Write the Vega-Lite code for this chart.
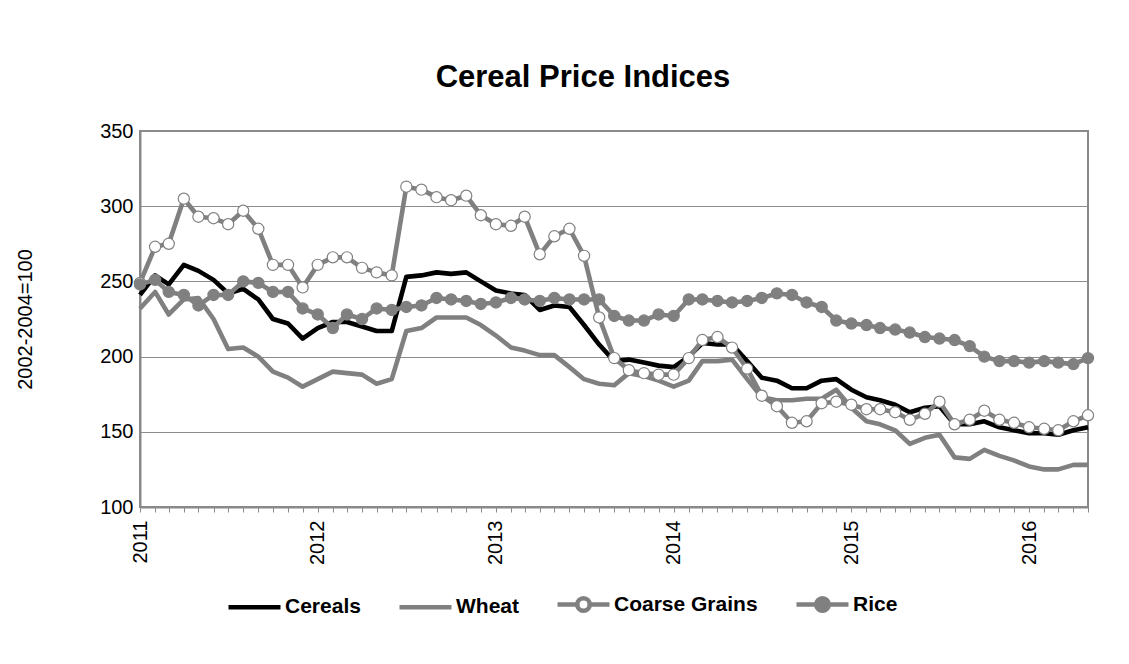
{
  "$schema": "https://vega.github.io/schema/vega-lite/v6.json",
  "width": 948,
  "height": 376,
  "autosize": {"type": "none"},
  "padding": {"left": 140, "top": 131, "right": 41, "bottom": 157},
  "background": "white",
  "title": {"text": "Cereal Price Indices", "fontSize": 31, "fontWeight": "bold", "color": "black", "anchor": "middle", "frame": "group", "dx": -31, "offset": 27},
  "data": {"values": [
    {"date": "2011-01-01", "Cereals": 241, "Wheat": 232, "Coarse Grains": 249, "Rice": 248},
    {"date": "2011-02-01", "Cereals": 254, "Wheat": 243, "Coarse Grains": 273, "Rice": 251},
    {"date": "2011-03-01", "Cereals": 248, "Wheat": 228, "Coarse Grains": 275, "Rice": 243},
    {"date": "2011-04-01", "Cereals": 261, "Wheat": 238, "Coarse Grains": 305, "Rice": 241},
    {"date": "2011-05-01", "Cereals": 257, "Wheat": 239, "Coarse Grains": 293, "Rice": 234},
    {"date": "2011-06-01", "Cereals": 251, "Wheat": 225, "Coarse Grains": 292, "Rice": 241},
    {"date": "2011-07-01", "Cereals": 242, "Wheat": 205, "Coarse Grains": 288, "Rice": 241},
    {"date": "2011-08-01", "Cereals": 245, "Wheat": 206, "Coarse Grains": 297, "Rice": 250},
    {"date": "2011-09-01", "Cereals": 238, "Wheat": 200, "Coarse Grains": 285, "Rice": 249},
    {"date": "2011-10-01", "Cereals": 225, "Wheat": 190, "Coarse Grains": 261, "Rice": 243},
    {"date": "2011-11-01", "Cereals": 222, "Wheat": 186, "Coarse Grains": 261, "Rice": 243},
    {"date": "2011-12-01", "Cereals": 212, "Wheat": 180, "Coarse Grains": 246, "Rice": 232},
    {"date": "2012-01-01", "Cereals": 219, "Wheat": 185, "Coarse Grains": 261, "Rice": 228},
    {"date": "2012-02-01", "Cereals": 223, "Wheat": 190, "Coarse Grains": 266, "Rice": 219},
    {"date": "2012-03-01", "Cereals": 223, "Wheat": 189, "Coarse Grains": 266, "Rice": 228},
    {"date": "2012-04-01", "Cereals": 220, "Wheat": 188, "Coarse Grains": 259, "Rice": 225},
    {"date": "2012-05-01", "Cereals": 217, "Wheat": 182, "Coarse Grains": 256, "Rice": 232},
    {"date": "2012-06-01", "Cereals": 217, "Wheat": 185, "Coarse Grains": 254, "Rice": 231},
    {"date": "2012-07-01", "Cereals": 253, "Wheat": 217, "Coarse Grains": 313, "Rice": 233},
    {"date": "2012-08-01", "Cereals": 254, "Wheat": 219, "Coarse Grains": 311, "Rice": 234},
    {"date": "2012-09-01", "Cereals": 256, "Wheat": 226, "Coarse Grains": 306, "Rice": 239},
    {"date": "2012-10-01", "Cereals": 255, "Wheat": 226, "Coarse Grains": 304, "Rice": 238},
    {"date": "2012-11-01", "Cereals": 256, "Wheat": 226, "Coarse Grains": 307, "Rice": 237},
    {"date": "2012-12-01", "Cereals": 250, "Wheat": 221, "Coarse Grains": 294, "Rice": 235},
    {"date": "2013-01-01", "Cereals": 244, "Wheat": 214, "Coarse Grains": 288, "Rice": 236},
    {"date": "2013-02-01", "Cereals": 242, "Wheat": 206, "Coarse Grains": 287, "Rice": 239},
    {"date": "2013-03-01", "Cereals": 241, "Wheat": 204, "Coarse Grains": 293, "Rice": 238},
    {"date": "2013-04-01", "Cereals": 231, "Wheat": 201, "Coarse Grains": 268, "Rice": 237},
    {"date": "2013-05-01", "Cereals": 234, "Wheat": 201, "Coarse Grains": 280, "Rice": 239},
    {"date": "2013-06-01", "Cereals": 233, "Wheat": 193, "Coarse Grains": 285, "Rice": 238},
    {"date": "2013-07-01", "Cereals": 221, "Wheat": 185, "Coarse Grains": 267, "Rice": 238},
    {"date": "2013-08-01", "Cereals": 208, "Wheat": 182, "Coarse Grains": 226, "Rice": 238},
    {"date": "2013-09-01", "Cereals": 197, "Wheat": 181, "Coarse Grains": 199, "Rice": 227},
    {"date": "2013-10-01", "Cereals": 198, "Wheat": 189, "Coarse Grains": 191, "Rice": 224},
    {"date": "2013-11-01", "Cereals": 196, "Wheat": 187, "Coarse Grains": 189, "Rice": 224},
    {"date": "2013-12-01", "Cereals": 194, "Wheat": 184, "Coarse Grains": 188, "Rice": 228},
    {"date": "2014-01-01", "Cereals": 193, "Wheat": 180, "Coarse Grains": 188, "Rice": 227},
    {"date": "2014-02-01", "Cereals": 200, "Wheat": 184, "Coarse Grains": 199, "Rice": 238},
    {"date": "2014-03-01", "Cereals": 209, "Wheat": 197, "Coarse Grains": 211, "Rice": 238},
    {"date": "2014-04-01", "Cereals": 208, "Wheat": 197, "Coarse Grains": 213, "Rice": 237},
    {"date": "2014-05-01", "Cereals": 208, "Wheat": 198, "Coarse Grains": 206, "Rice": 236},
    {"date": "2014-06-01", "Cereals": 197, "Wheat": 185, "Coarse Grains": 192, "Rice": 237},
    {"date": "2014-07-01", "Cereals": 186, "Wheat": 173, "Coarse Grains": 174, "Rice": 239},
    {"date": "2014-08-01", "Cereals": 184, "Wheat": 171, "Coarse Grains": 167, "Rice": 242},
    {"date": "2014-09-01", "Cereals": 179, "Wheat": 171, "Coarse Grains": 156, "Rice": 241},
    {"date": "2014-10-01", "Cereals": 179, "Wheat": 172, "Coarse Grains": 157, "Rice": 236},
    {"date": "2014-11-01", "Cereals": 184, "Wheat": 172, "Coarse Grains": 169, "Rice": 233},
    {"date": "2014-12-01", "Cereals": 185, "Wheat": 178, "Coarse Grains": 170, "Rice": 224},
    {"date": "2015-01-01", "Cereals": 178, "Wheat": 166, "Coarse Grains": 168, "Rice": 222},
    {"date": "2015-02-01", "Cereals": 173, "Wheat": 157, "Coarse Grains": 165, "Rice": 221},
    {"date": "2015-03-01", "Cereals": 171, "Wheat": 155, "Coarse Grains": 165, "Rice": 219},
    {"date": "2015-04-01", "Cereals": 168, "Wheat": 151, "Coarse Grains": 163, "Rice": 218},
    {"date": "2015-05-01", "Cereals": 163, "Wheat": 142, "Coarse Grains": 158, "Rice": 216},
    {"date": "2015-06-01", "Cereals": 166, "Wheat": 146, "Coarse Grains": 162, "Rice": 213},
    {"date": "2015-07-01", "Cereals": 167, "Wheat": 148, "Coarse Grains": 170, "Rice": 212},
    {"date": "2015-08-01", "Cereals": 155, "Wheat": 133, "Coarse Grains": 155, "Rice": 211},
    {"date": "2015-09-01", "Cereals": 155, "Wheat": 132, "Coarse Grains": 158, "Rice": 207},
    {"date": "2015-10-01", "Cereals": 157, "Wheat": 138, "Coarse Grains": 164, "Rice": 200},
    {"date": "2015-11-01", "Cereals": 153, "Wheat": 134, "Coarse Grains": 158, "Rice": 197},
    {"date": "2015-12-01", "Cereals": 151, "Wheat": 131, "Coarse Grains": 156, "Rice": 197},
    {"date": "2016-01-01", "Cereals": 149, "Wheat": 127, "Coarse Grains": 153, "Rice": 196},
    {"date": "2016-02-01", "Cereals": 149, "Wheat": 125, "Coarse Grains": 152, "Rice": 197},
    {"date": "2016-03-01", "Cereals": 148, "Wheat": 125, "Coarse Grains": 151, "Rice": 196},
    {"date": "2016-04-01", "Cereals": 151, "Wheat": 128, "Coarse Grains": 157, "Rice": 195},
    {"date": "2016-05-01", "Cereals": 153, "Wheat": 128, "Coarse Grains": 161, "Rice": 199}
  ]},
  "transform": [{"fold": ["Cereals", "Wheat", "Coarse Grains", "Rice"], "as": ["series", "value"]}],
  "encoding": {
    "x": {"field": "date", "type": "temporal", "scale": {"type": "utc", "nice": false},
      "axis": {"title": null, "grid": false, "tickCount": {"interval": "month", "step": 1},
        "labelExpr": "utcmonth(datum.value) === 0 ? utcFormat(datum.value, '%Y') : ''",
        "labelAngle": -90, "labelFontSize": 20, "labelColor": "black", "labelPadding": 8,
        "labelOverlap": false, "labelFlush": false, "labelBound": false,
        "tickSize": 5, "tickColor": "#898989", "tickWidth": 1, "domainColor": "#898989", "domainWidth": 2}},
    "y": {"field": "value", "type": "quantitative", "scale": {"domain": [100, 350], "nice": false, "zero": false},
      "axis": {"title": "2002-2004=100", "values": [100, 150, 200, 250, 300, 350], "ticks": false,
        "labelFontSize": 20, "labelColor": "black", "labelPadding": 7,
        "titleFontSize": 20, "titleFontWeight": "normal", "titleColor": "black",
        "titleX": -115, "titleY": 188, "titleAngle": -90, "titleAlign": "center", "titleBaseline": "middle",
        "gridColor": "#8c8c8c", "gridWidth": 1, "domainColor": "#898989", "domainWidth": 2}}
  },
  "layer": [
    {
      "mark": {"type": "line", "strokeWidth": 4.6, "strokeJoin": "round"},
      "encoding": {
        "color": {"field": "series", "type": "nominal",
          "scale": {"domain": ["Cereals", "Wheat", "Coarse Grains", "Rice"], "range": ["#000000", "#808080", "#808080", "#808080"]},
          "legend": {"orient": "none", "legendX": 86, "legendY": 445, "direction": "horizontal", "title": null,
            "labelFontSize": 21, "labelFontWeight": "bold", "labelColor": "black", "labelLimit": 300,
            "symbolSize": 2704, "symbolStrokeWidth": 4.6, "columnPadding": 29, "labelOffset": 2,
            "encoding": {"symbols": {
              "shape": {"condition": {"test": "datum.value === 'Coarse Grains' || datum.value === 'Rice'", "value": "M-1,0L-0.24,0M0.24,0L1,0M0.24,0A0.24,0.24,0,1,1,-0.24,0A0.24,0.24,0,1,1,0.24,0Z"}, "value": "M-1,0L1,0"},
              "fill": {"condition": [{"test": "datum.value === 'Coarse Grains'", "value": "white"}, {"test": "datum.value === 'Rice'", "value": "#808080"}], "value": "transparent"}
            }}}
        }
      }
    },
    {
      "transform": [{"filter": {"field": "series", "oneOf": ["Coarse Grains", "Rice"]}}],
      "mark": {"type": "point", "shape": "circle", "stroke": "#808080", "strokeWidth": 1.2, "opacity": 1, "size": 125},
      "encoding": {
        "fill": {"field": "series", "type": "nominal", "scale": {"domain": ["Coarse Grains", "Rice"], "range": ["#ffffff", "#808080"]}, "legend": null}
      }
    }
  ],
  "config": {
    "font": "Liberation Sans",
    "view": {"stroke": "#898989", "strokeWidth": 2}
  }
}
